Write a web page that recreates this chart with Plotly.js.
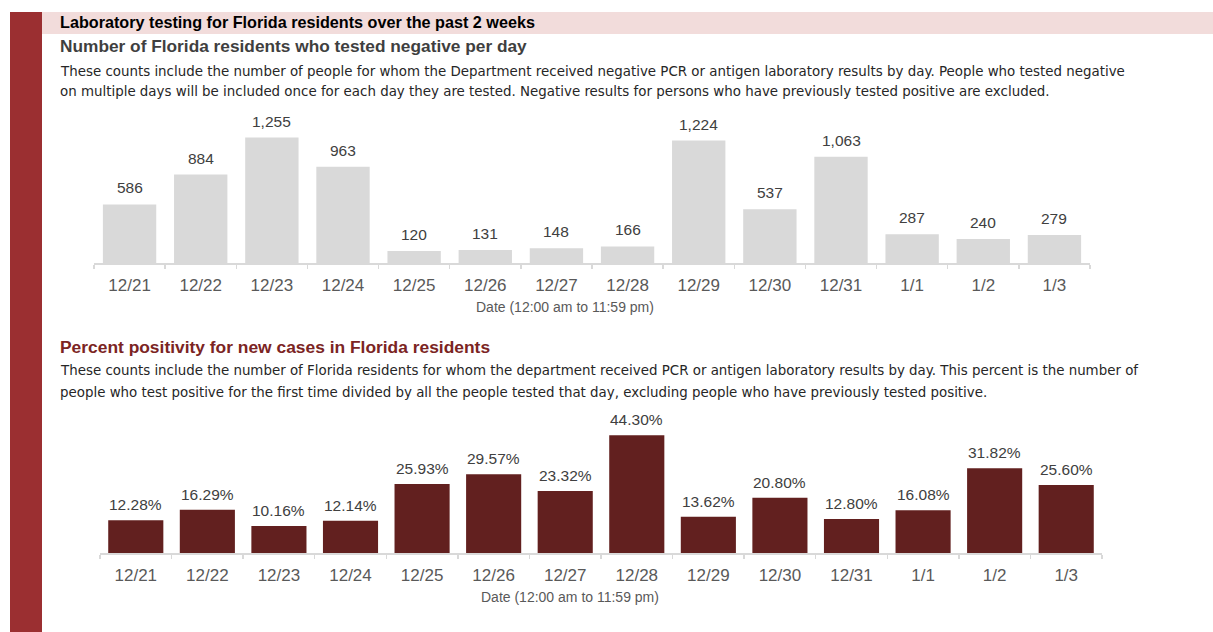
<!DOCTYPE html>
<html>
<head>
<meta charset="utf-8">
<script src="https://cdn.plot.ly/plotly-3.0.1.min.js"></script>
<style>
  html, body { margin: 0; padding: 0; background: #ffffff; }
  #chart { width: 1213px; height: 632px; }
</style>
</head>
<body>
<div id="chart"></div>
<script>
// ---- data ----
var dates = ['12/21','12/22','12/23','12/24','12/25','12/26','12/27','12/28','12/29','12/30','12/31','1/1','1/2','1/3'];
var negatives = [586, 884, 1255, 963, 120, 131, 148, 166, 1224, 537, 1063, 287, 240, 279];
var positivity = [12.28, 16.29, 10.16, 12.14, 25.93, 29.57, 23.32, 44.30, 13.62, 20.80, 12.80, 16.08, 31.82, 25.60];

var mainTitle = 'Laboratory testing for Florida residents over the past 2 weeks';
var sub1 = 'Number of Florida residents who tested negative per day';
var desc1a = 'These counts include the number of people for whom the Department received negative PCR or antigen laboratory results by day. People who tested negative';
var desc1b = 'on multiple days will be included once for each day they are tested. Negative results for persons who have previously tested positive are excluded.';
var sub2 = 'Percent positivity for new cases in Florida residents';
var desc2a = 'These counts include the number of Florida residents for whom the department received PCR or antigen laboratory results by day. This percent is the number of';
var desc2b = 'people who test positive for the first time divided by all the people tested that day, excluding people who have previously tested positive.';
var xTitle = 'Date (12:00 am to 11:59 pm)';

// ---- style ----
var FONT = 'Liberation Sans, Arial, sans-serif';
var BODY = 'DejaVu Sans, Verdana, sans-serif';
var W = 1213, H = 632;
function px(x) { return x / W; }
function py(y) { return 1 - y / H; }

var traces = [
  {
    type: 'bar', x: dates, y: negatives, xaxis: 'x', yaxis: 'y',
    marker: { color: '#d9d9d9' }, width: 0.75, hoverinfo: 'skip'
  },
  {
    type: 'bar', x: dates, y: positivity, xaxis: 'x2', yaxis: 'y2',
    marker: { color: '#62201f' }, width: 0.77, hoverinfo: 'skip'
  }
];

var annotations = [];
function fmtInt(v) { return v.toLocaleString('en-US'); }
dates.forEach(function (d, i) {
  annotations.push({
    x: d, y: negatives[i], xref: 'x', yref: 'y', text: fmtInt(negatives[i]),
    showarrow: false, yanchor: 'bottom', yshift: 6,
    font: { family: FONT, size: 15.5, color: '#404040' }
  });
  annotations.push({
    x: d, y: positivity[i], xref: 'x2', yref: 'y2', text: positivity[i].toFixed(2) + '%',
    showarrow: false, yanchor: 'bottom', yshift: 5,
    font: { family: FONT, size: 15.5, color: '#404040' }
  });
});

function textAnn(text, x, y, size, color, bold, family) {
  return {
    xref: 'paper', yref: 'paper', x: px(x), y: py(y), xanchor: 'left', yanchor: 'middle',
    text: bold ? '<b>' + text + '</b>' : text, showarrow: false,
    font: { family: family || FONT, size: size, color: color }
  };
}
annotations.push(textAnn(mainTitle, 58, 22, 16.2, '#000000', true));
annotations.push(textAnn(sub1, 58, 46, 17.3, '#3f3f3f', true));
annotations.push(textAnn(desc1a, 58, 71, 13.4, '#262626', false, BODY));
annotations.push(textAnn(desc1b, 58, 91, 13.4, '#262626', false, BODY));
annotations.push(textAnn(sub2, 58, 347, 17.4, '#7b2423', true));
annotations.push(textAnn(desc2a, 58, 370, 13.4, '#262626', false, BODY));
annotations.push(textAnn(desc2b, 58, 392, 13.4, '#262626', false, BODY));
annotations.push({
  xref: 'paper', yref: 'paper', x: px(565), y: py(307), xanchor: 'center', yanchor: 'middle',
  text: xTitle, showarrow: false, font: { family: FONT, size: 14, color: '#595959' }
});
annotations.push({
  xref: 'paper', yref: 'paper', x: px(570), y: py(597), xanchor: 'center', yanchor: 'middle',
  text: xTitle, showarrow: false, font: { family: FONT, size: 14, color: '#595959' }
});

var xaxisStyle = {
  type: 'category', showgrid: false, zeroline: false, showline: true,
  linecolor: '#d9d9d9', linewidth: 1.5, ticks: 'outside', tickson: 'boundaries',
  ticklen: 4, tickcolor: '#d9d9d9', tickwidth: 1.5, ticklabelstandoff: 6,
  tickfont: { family: FONT, size: 17, color: '#595959' }, fixedrange: true
};
var yaxisStyle = { visible: false, showgrid: false, zeroline: false, fixedrange: true };

var layout = {
  width: W, height: H,
  margin: { l: 0, r: 0, t: 0, b: 0 },
  paper_bgcolor: '#ffffff', plot_bgcolor: 'rgba(0,0,0,0)',
  showlegend: false,
  xaxis: Object.assign({}, xaxisStyle, { domain: [px(94), px(1090)], anchor: 'y' }),
  yaxis: Object.assign({}, yaxisStyle, { domain: [py(263), py(123)], range: [0, 1400], anchor: 'x' }),
  xaxis2: Object.assign({}, xaxisStyle, { domain: [px(100), px(1102)], anchor: 'y2' }),
  yaxis2: Object.assign({}, yaxisStyle, { domain: [py(553), py(420)], range: [0, 50], anchor: 'x2' }),
  shapes: [
    { type: 'rect', xref: 'paper', yref: 'paper', x0: px(42), x1: 1, y0: py(34), y1: py(12),
      fillcolor: '#f2dcdb', line: { width: 0 }, layer: 'below' },
    { type: 'rect', xref: 'paper', yref: 'paper', x0: px(10), x1: px(42), y0: 0, y1: py(12),
      fillcolor: '#9b2f31', line: { width: 0 }, layer: 'below' }
  ],
  annotations: annotations
};

Plotly.newPlot('chart', traces, layout, { displayModeBar: false, staticPlot: true });
</script>
</body>
</html>
